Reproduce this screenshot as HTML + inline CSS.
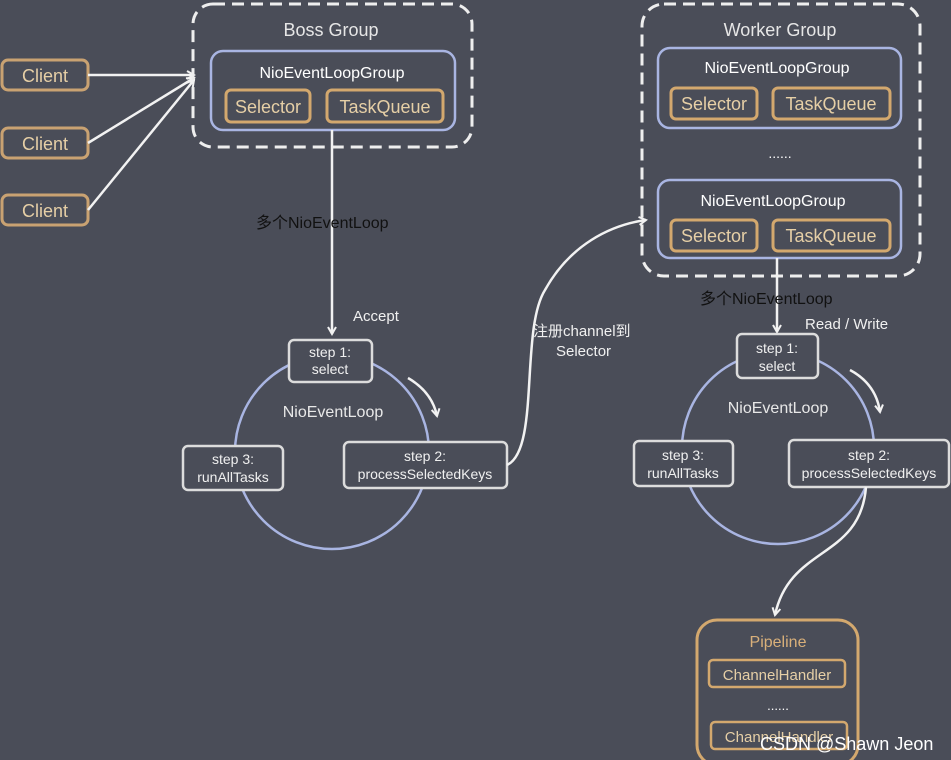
<!DOCTYPE html>
<html><head><meta charset="utf-8"><style>
html,body{margin:0;padding:0;background:#4a4d58;}
svg{display:block;}
text{font-family:"Liberation Sans","Noto Sans CJK SC",sans-serif;}
</style></head><body>
<svg width="951" height="760" viewBox="0 0 951 760" xmlns="http://www.w3.org/2000/svg">
<defs>
<marker id="ah" markerWidth="10" markerHeight="10" refX="8" refY="5" orient="auto" markerUnits="userSpaceOnUse">
<path d="M1,1 L8,5 L1,9" fill="none" stroke="#f2f2f2" stroke-width="2"/>
</marker>
</defs>
<rect width="951" height="760" fill="#4a4d58"/>

<!-- Clients -->
<g fill="#4a4d58" stroke="#c9a272" stroke-width="3">
<rect x="2" y="60" width="86" height="30" rx="6"/>
<rect x="2" y="128" width="86" height="30" rx="6"/>
<rect x="2" y="195" width="86" height="30" rx="6"/>
</g>
<g fill="#e6cfa6" font-size="18" text-anchor="middle">
<text x="45" y="82">Client</text><text x="45" y="150">Client</text><text x="45" y="217">Client</text>
</g>
<g stroke="#f2f2f2" stroke-width="2.5" fill="none" marker-end="url(#ah)">
<line x1="88" y1="75" x2="194" y2="75"/>
<line x1="88" y1="143" x2="194" y2="78"/>
<line x1="88" y1="210" x2="194" y2="80"/>
</g>

<!-- Boss group -->
<rect x="193" y="4" width="279" height="143" rx="20" fill="none" stroke="#eee" stroke-width="3" stroke-dasharray="12,7"/>
<text x="331" y="36" fill="#e6e6e6" font-size="18" text-anchor="middle">Boss Group</text>
<rect x="211" y="51" width="244" height="79" rx="12" fill="#4a4d58" stroke="#a9b5e2" stroke-width="2.5"/>
<text x="332" y="78" fill="#fff" font-size="16" text-anchor="middle">NioEventLoopGroup</text>
<g fill="#4a4d58" stroke="#d3a86e" stroke-width="3">
<rect x="226" y="90" width="84" height="32" rx="5"/><rect x="327" y="90" width="116" height="32" rx="5"/>
</g>
<g fill="#e6cfa6" font-size="18" text-anchor="middle"><text x="268" y="113">Selector</text><text x="385" y="113">TaskQueue</text></g>

<line x1="332" y1="130" x2="332" y2="334" stroke="#f2f2f2" stroke-width="2.5" marker-end="url(#ah)"/>
<text x="256" y="228" fill="#111" font-size="16">多个NioEventLoop</text>
<text x="353" y="321" fill="#f0f0f0" font-size="15">Accept</text>

<!-- left loop -->
<circle cx="332" cy="452" r="97" fill="none" stroke="#a9b5e2" stroke-width="2.5"/>
<text x="333" y="417" fill="#e8e8e8" font-size="16" text-anchor="middle">NioEventLoop</text>
<path d="M408,378 Q432,392 437,416" fill="none" stroke="#f2f2f2" stroke-width="2.5" marker-end="url(#ah)"/>
<g fill="#4a4d58" stroke="#dcdcdc" stroke-width="2.5">
<rect x="289" y="340" width="83" height="42" rx="5"/>
<rect x="344" y="442" width="163" height="46" rx="5"/>
<rect x="183" y="446" width="100" height="44" rx="5"/>
</g>
<g fill="#f0f0f0" font-size="14" text-anchor="middle">
<text x="330" y="357">step 1:</text><text x="330" y="374">select</text>
<text x="425" y="461">step 2:</text><text x="425" y="479">processSelectedKeys</text>
<text x="233" y="464">step 3:</text><text x="233" y="482">runAllTasks</text>
</g>

<!-- register connector -->
<path d="M507,465 C540,450 520,330 545,290 C570,245 610,225 646,220" fill="none" stroke="#f2f2f2" stroke-width="2.5" marker-end="url(#ah)"/>
<text x="533" y="336" fill="#f0f0f0" font-size="15">注册channel到</text>
<text x="556" y="356" fill="#f0f0f0" font-size="15">Selector</text>

<!-- Worker group -->
<rect x="642" y="4" width="278" height="272" rx="22" fill="none" stroke="#eee" stroke-width="3" stroke-dasharray="12,7"/>
<text x="780" y="36" fill="#e6e6e6" font-size="18" text-anchor="middle">Worker Group</text>
<rect x="658" y="48" width="243" height="80" rx="12" fill="#4a4d58" stroke="#a9b5e2" stroke-width="2.5"/>
<text x="777" y="73" fill="#fff" font-size="16" text-anchor="middle">NioEventLoopGroup</text>
<rect x="658" y="180" width="243" height="78" rx="12" fill="#4a4d58" stroke="#a9b5e2" stroke-width="2.5"/>
<text x="773" y="206" fill="#fff" font-size="16" text-anchor="middle">NioEventLoopGroup</text>
<g fill="#4a4d58" stroke="#d3a86e" stroke-width="3">
<rect x="671" y="88" width="86" height="31" rx="5"/><rect x="773" y="88" width="117" height="31" rx="5"/>
<rect x="671" y="220" width="86" height="31" rx="5"/><rect x="773" y="220" width="117" height="31" rx="5"/>
</g>
<g fill="#e6cfa6" font-size="18" text-anchor="middle">
<text x="714" y="110">Selector</text><text x="831" y="110">TaskQueue</text>
<text x="714" y="242">Selector</text><text x="831" y="242">TaskQueue</text>
</g>
<text x="780" y="158" fill="#fff" font-size="14" text-anchor="middle">......</text>

<line x1="777" y1="258" x2="777" y2="332" stroke="#f2f2f2" stroke-width="2.5" marker-end="url(#ah)"/>
<text x="700" y="304" fill="#111" font-size="16">多个NioEventLoop</text>
<text x="805" y="329" fill="#f0f0f0" font-size="15">Read / Write</text>

<!-- right loop -->
<circle cx="778" cy="448" r="96" fill="none" stroke="#a9b5e2" stroke-width="2.5"/>
<text x="778" y="413" fill="#e8e8e8" font-size="16" text-anchor="middle">NioEventLoop</text>
<path d="M850,370 Q876,384 880,412" fill="none" stroke="#f2f2f2" stroke-width="2.5" marker-end="url(#ah)"/>
<g fill="#4a4d58" stroke="#dcdcdc" stroke-width="2.5">
<rect x="737" y="334" width="81" height="44" rx="5"/>
<rect x="789" y="440" width="160" height="47" rx="5"/>
<rect x="634" y="441" width="99" height="45" rx="5"/>
</g>
<g fill="#f0f0f0" font-size="14" text-anchor="middle">
<text x="777" y="353">step 1:</text><text x="777" y="371">select</text>
<text x="869" y="460">step 2:</text><text x="869" y="478">processSelectedKeys</text>
<text x="683" y="460">step 3:</text><text x="683" y="478">runAllTasks</text>
</g>
<path d="M866,487 C860,560 790,545 775,615" fill="none" stroke="#f2f2f2" stroke-width="2.5" marker-end="url(#ah)"/>

<!-- Pipeline -->
<rect x="697" y="620" width="161" height="145" rx="20" fill="none" stroke="#d3a86e" stroke-width="3"/>
<text x="778" y="647" fill="#d9b07a" font-size="16" text-anchor="middle">Pipeline</text>
<g fill="none" stroke="#d3a86e" stroke-width="2.5">
<rect x="709" y="660" width="136" height="27" rx="4"/><rect x="711" y="722" width="136" height="27" rx="4"/>
</g>
<g fill="#e6cfa6" font-size="15" text-anchor="middle"><text x="777" y="680">ChannelHandler</text><text x="779" y="742">ChannelHandler</text></g>
<text x="778" y="710" fill="#fff" font-size="13" text-anchor="middle">......</text>
<text x="760" y="750" fill="#ffffff" font-size="18">CSDN @Shawn Jeon</text>
</svg>
</body></html>
